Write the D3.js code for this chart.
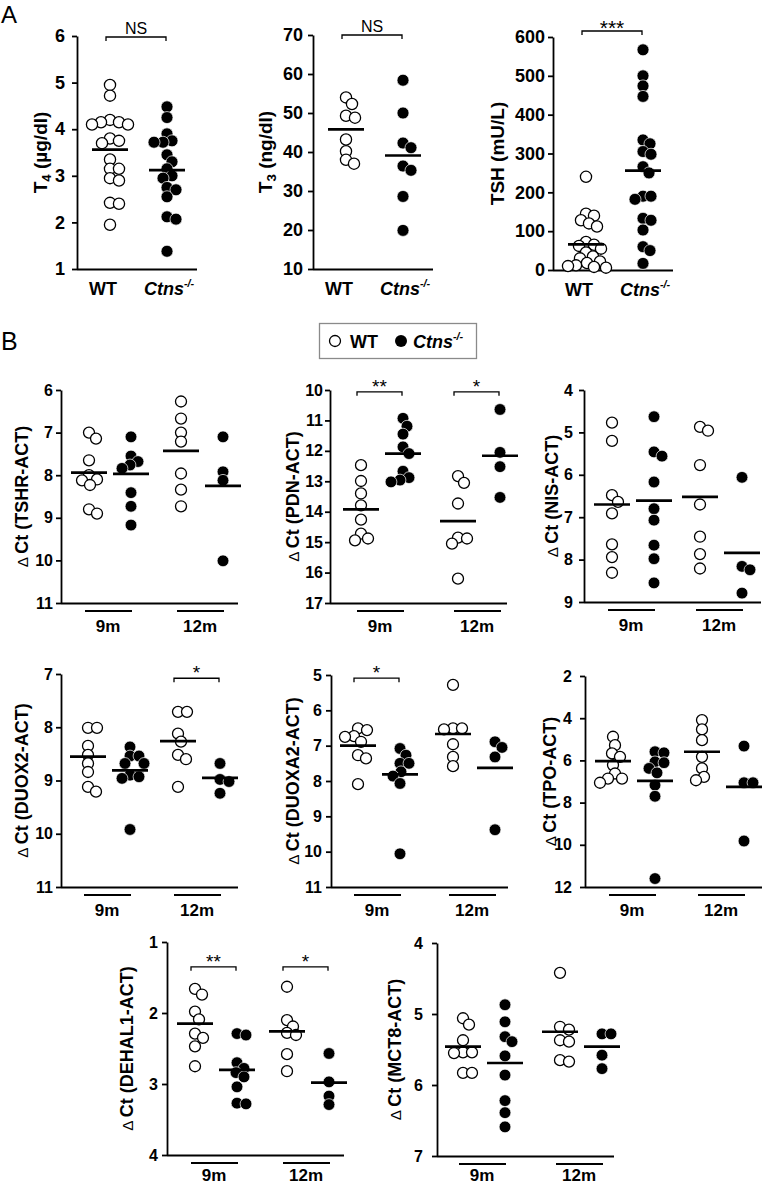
<!DOCTYPE html>
<html><head><meta charset="utf-8">
<script src="https://cdn.jsdelivr.net/npm/d3@7"></script>
<style>
body{margin:0;background:#fff}
svg{display:block}
text{font-family:"Liberation Sans",Arial,Helvetica,sans-serif}
</style>
</head><body>
<svg id="chart" width="762" height="1186"></svg>
<script>
// ---------------- DATA ----------------
const groupsA = ["WT", "Ctns"];
const ages = ["9m", "12m"];

// Panel A
const t4Ticks = [1, 2, 3, 4, 5, 6];
const t4WT = [4.95, 4.72, 4.2, 4.15, 4.15, 4.1, 4.1, 3.8, 3.75, 3.7, 3.35, 3.15, 3.15, 2.95, 2.9, 2.42, 2.4, 1.95];
const t4KO = [4.48, 4.25, 3.9, 3.75, 3.72, 3.72, 3.45, 3.3, 3.15, 3.0, 2.95, 2.75, 2.7, 2.55, 2.12, 2.07, 1.38];
const t4Means = [3.56, 3.12];

const t3Ticks = [10, 20, 30, 40, 50, 60, 70];
const t3WT = [54, 52.3, 49.3, 48.8, 43.2, 40.2, 38, 37];
const t3KO = [58.4, 50, 42.3, 41.1, 36.4, 35.3, 28.6, 19.9];
const t3Means = [45.8, 39.1];

const tshTicks = [0, 100, 200, 300, 400, 500, 600];
const tshWT = [240, 145, 140, 128, 120, 112, 72, 65, 62, 55, 45, 35, 30, 22, 18, 12, 10, 8, 6];
const tshKO = [567, 500, 474, 447, 335, 325, 305, 298, 266, 250, 190, 190, 182, 133, 128, 103, 60, 50, 17];
const tshMeans = [66, 256];

// Panel B (groups: WT 9m, Ctns 9m, WT 12m, Ctns 12m)
const tshrTicks = [6, 7, 8, 9, 10, 11];
const tshrWT9 = [7.0, 7.14, 7.65, 8.0, 8.1, 8.12, 8.23, 8.8, 8.9];
const tshrKO9 = [7.1, 7.55, 7.68, 7.76, 7.84, 8.41, 8.73, 9.17];
const tshrWT12 = [6.27, 6.67, 7.0, 7.21, 7.96, 8.34, 8.73];
const tshrKO12 = [7.1, 7.92, 8.12, 10.01];
const tshrMeans = [7.94, 7.97, 7.43, 8.25];

const pdnTicks = [10, 11, 12, 13, 14, 15, 16, 17];
const pdnWT9 = [12.47, 12.99, 13.4, 13.79, 14.26, 14.72, 14.88, 14.94];
const pdnKO9 = [10.93, 11.19, 11.45, 11.87, 12.09, 12.67, 12.88, 12.96, 13.02];
const pdnWT12 = [12.83, 13.05, 13.73, 14.85, 14.88, 15.05, 16.2];
const pdnKO12 = [10.64, 12.05, 12.52, 13.53];
const pdnMeans = [13.92, 12.09, 14.31, 12.16];
const pdnSig = ["**", "*"];

const nisTicks = [4, 5, 6, 7, 8, 9];
const nisWT9 = [4.77, 5.2, 6.48, 6.64, 6.91, 7.64, 7.94, 8.31];
const nisKO9 = [4.63, 5.46, 5.56, 6.17, 6.8, 7.07, 7.66, 7.98, 8.55];
const nisWT12 = [4.87, 4.96, 5.77, 6.7, 7.46, 7.87, 8.21];
const nisKO12 = [6.06, 8.16, 8.24, 8.79];
const nisMeans = [6.70, 6.61, 6.52, 7.84];

const duox2Ticks = [7, 8, 9, 10, 11];
const duox2WT9 = [8.01, 8.01, 8.35, 8.52, 8.68, 8.84, 9.12, 9.21];
const duox2KO9 = [8.37, 8.54, 8.54, 8.68, 8.68, 8.9, 8.93, 8.96, 9.92];
const duox2WT12 = [7.71, 7.71, 8.12, 8.27, 8.52, 8.6, 9.12];
const duox2KO12 = [8.68, 8.98, 9.02, 9.24];
const duox2Means = [8.55, 8.81, 8.26, 8.95];
const duox2Sig = [null, "*"];

const duoxa2Ticks = [5, 6, 7, 8, 9, 10, 11];
const duoxa2WT9 = [6.51, 6.56, 6.73, 6.75, 6.89, 7.27, 7.36, 8.09];
const duoxa2KO9 = [7.08, 7.27, 7.5, 7.5, 7.74, 7.86, 8.07, 10.06];
const duoxa2WT12 = [5.28, 6.51, 6.51, 6.54, 6.96, 7.32, 7.58];
const duoxa2KO12 = [6.89, 7.05, 7.32, 9.38];
const duoxa2Means = [7.0, 7.81, 6.67, 7.63];
const duoxa2Sig = ["*", null];

const tpoTicks = [2, 4, 6, 8, 10, 12];
const tpoWT9 = [4.88, 5.28, 5.67, 5.83, 6.22, 6.62, 6.86, 6.86, 7.06];
const tpoKO9 = [5.59, 5.64, 6.07, 6.11, 6.38, 6.59, 7.17, 7.7, 11.6];
const tpoWT12 = [4.09, 4.53, 5.04, 5.83, 6.38, 6.78, 6.94];
const tpoKO12 = [5.32, 7.06, 7.06, 9.82];
const tpoMeans = [6.03, 6.97, 5.59, 7.25];

const dehalTicks = [1, 2, 3, 4];
const dehalWT9 = [1.66, 1.74, 1.98, 2.09, 2.29, 2.35, 2.47, 2.75];
const dehalKO9 = [2.29, 2.31, 2.7, 2.78, 2.84, 2.9, 3.04, 3.27, 3.28];
const dehalWT12 = [1.63, 2.1, 2.19, 2.28, 2.31, 2.58, 2.82];
const dehalKO12 = [2.57, 2.97, 3.17, 3.29];
const dehalMeans = [2.15, 2.8, 2.26, 2.98];
const dehalSig = ["**", "*"];

const mct8Ticks = [4, 5, 6, 7];
const mct8WT9 = [5.06, 5.15, 5.37, 5.54, 5.54, 5.55, 5.83, 5.83];
const mct8KO9 = [4.87, 5.11, 5.32, 5.39, 5.59, 5.86, 6.22, 6.39, 6.59];
const mct8WT12 = [4.42, 5.18, 5.22, 5.37, 5.39, 5.65, 5.67];
const mct8KO12 = [5.28, 5.28, 5.58, 5.77];
const mct8Means = [5.46, 5.69, 5.25, 5.46];

// ---------------- DRAWING ----------------
const FONT = '"Liberation Sans",Arial,Helvetica,sans-serif';
const svg = d3.select("#chart");
svg.append("rect").attr("width", 762).attr("height", 1186).attr("fill", "#fff");

function dodge(vals, y, minD) {
  const placed = [];
  vals.forEach(v => {
    const py = y(v);
    let chosen = 0;
    for (let k = 0; k < 120; k++) {
      const dx = k === 0 ? 0 : (k % 2 ? 1 : -1) * Math.ceil(k / 2);
      if (placed.every(p => Math.hypot(dx - p.dx, py - p.py) >= minD)) { chosen = dx; break; }
    }
    placed.push({ v: v, py: py, dx: chosen });
  });
  return placed;
}

function drawYAxis(g, y, ticks, x, pad, fs) {
  const ax = d3.axisLeft(y).tickValues(ticks).tickSize(5).tickSizeOuter(0)
    .tickPadding(pad).tickFormat(d3.format("d"));
  const gg = g.append("g").attr("transform", `translate(${x},0)`).call(ax)
    .attr("font-family", FONT).attr("font-size", fs);
  gg.select(".domain").attr("stroke", "#000").attr("stroke-width", 1.8);
  gg.selectAll(".tick line").attr("stroke", "#000").attr("stroke-width", 1.8);
  gg.selectAll(".tick text").attr("font-weight", "bold").attr("fill", "#000");
  return gg;
}

function drawPoints(g, pts, cx, filled, r) {
  g.selectAll(null).data(pts).enter().append("circle")
    .attr("cx", d => cx + d.dx).attr("cy", d => d.py).attr("r", r)
    .attr("fill", filled ? "#000" : "#fff")
    .attr("stroke", filled ? "#fff" : "#000")
    .attr("stroke-width", filled ? 0.7 : 1.3);
}

function drawMean(g, cx, yv, half) {
  g.append("line").attr("x1", cx - half).attr("x2", cx + half)
    .attr("y1", yv).attr("y2", yv).attr("stroke", "#000").attr("stroke-width", 2.7);
}

function drawBracket(g, x1, x2, yb, label, fs, lblDy) {
  g.append("path").attr("d", `M${x1},${yb + 4}V${yb}H${x2}V${yb + 4}`)
    .attr("fill", "none").attr("stroke", "#000").attr("stroke-width", 1.3);
  g.append("text").attr("x", (x1 + x2) / 2).attr("y", yb + lblDy)
    .attr("text-anchor", "middle").attr("font-size", fs).attr("fill", "#000").text(label);
}

function yTitle(g, cx, cy, parts, fs) {
  const t = g.append("text").attr("transform", `translate(${cx},${cy}) rotate(-90)`)
    .attr("text-anchor", "middle").attr("dy", "0.35em")
    .attr("font-size", fs).attr("font-weight", "bold").attr("fill", "#000");
  parts.forEach(p => {
    const s = t.append("tspan").text(p.t);
    if (p.sub) s.attr("font-size", fs * 0.7).attr("dy", fs * 0.25);
    if (p.after) s.attr("dy", -fs * 0.25);
    if (p.normal) s.attr("font-weight", "normal").attr("font-size", fs * 0.85);
  });
}

function ctnsLabel(g, x, y, fs, anchor) {
  const t = g.append("text").attr("x", x).attr("y", y).attr("text-anchor", anchor)
    .attr("font-size", fs).attr("font-weight", "bold").attr("font-style", "italic").attr("fill", "#000");
  t.append("tspan").text("Ctns");
  t.append("tspan").text("-/-").attr("font-size", fs * 0.6).attr("dy", -fs * 0.42);
  return t;
}

// ---- Panel A ----
function panelA(cfg) {
  const g = svg.append("g");
  const y = d3.scaleLinear().domain(d3.extent(cfg.ticks)).range([cfg.bottom, cfg.top]);
  const x = d3.scalePoint().domain(groupsA).range([cfg.axisX + 33, cfg.axisX + 90]);
  drawYAxis(g, y, cfg.ticks, cfg.axisX, cfg.pad, 18);
  g.append("line").attr("x1", cfg.axisX).attr("x2", cfg.axisX + 120)
    .attr("y1", cfg.bottom + 0.5).attr("y2", cfg.bottom + 0.5).attr("stroke", "#000").attr("stroke-width", 1.8);
  drawPoints(g, dodge(cfg.wt, y, cfg.minD), x("WT"), false, 5.6);
  drawPoints(g, dodge(cfg.ko, y, cfg.minD), x("Ctns"), true, 6);
  drawMean(g, x("WT"), y(cfg.means[0]), 18);
  drawMean(g, x("Ctns"), y(cfg.means[1]), 18);
  const isStar = cfg.sig.indexOf("*") >= 0;
  drawBracket(g, x("WT") - 4, x("Ctns") - 1, cfg.top + cfg.bOff, cfg.sig, isStar ? 21 : 16, isStar ? 4 : -3);
  g.append("text").attr("x", x("WT") - 7).attr("y", cfg.bottom + 26).attr("text-anchor", "middle")
    .attr("font-size", 18).attr("font-weight", "bold").attr("fill", "#000").text("WT");
  ctnsLabel(g, x("Ctns") + 2, cfg.bottom + 26, 18, "middle");
  yTitle(g, cfg.axisX + cfg.titleDx, (cfg.top + cfg.bottom) / 2, cfg.title, 19);
}

panelA({ axisX: 77, top: 36, bottom: 269, ticks: t4Ticks, wt: t4WT, ko: t4KO, means: t4Means,
  sig: "NS", bOff: 1, titleDx: -37, minD: 8.5, pad: 7,
  title: [{ t: "T" }, { t: "4", sub: true }, { t: " (µg/dl)", after: true }] });
panelA({ axisX: 313, top: 35, bottom: 269, ticks: t3Ticks, wt: t3WT, ko: t3KO, means: t3Means,
  sig: "NS", bOff: 0, titleDx: -48, minD: 8.5, pad: 5,
  title: [{ t: "T" }, { t: "3", sub: true }, { t: " (ng/dl)", after: true }] });
panelA({ axisX: 553, top: 37, bottom: 270, ticks: tshTicks, wt: tshWT, ko: tshKO, means: tshMeans,
  sig: "***", bOff: -6, titleDx: -56, minD: 8, pad: 3,
  title: [{ t: "TSH (mU/L)" }] });

// ---- Legend ----
(function legend() {
  const g = svg.append("g");
  g.append("rect").attr("x", 319.5).attr("y", 323.5).attr("width", 157).attr("height", 35)
    .attr("fill", "#fff").attr("stroke", "#8a8a8a").attr("stroke-width", 1.3);
  g.append("circle").attr("cx", 335).attr("cy", 341).attr("r", 5.5)
    .attr("fill", "#fff").attr("stroke", "#000").attr("stroke-width", 1.3);
  g.append("text").attr("x", 350).attr("y", 347.5).attr("font-size", 18).attr("font-weight", "bold")
    .attr("fill", "#000").text("WT");
  g.append("circle").attr("cx", 401).attr("cy", 341).attr("r", 6).attr("fill", "#000");
  ctnsLabel(g, 413, 347.5, 18, "start");
})();

// ---- Panel B ----
function panelB(cfg) {
  const g = svg.append("g");
  const dom = d3.extent(cfg.ticks);
  const y = d3.scaleLinear().domain(dom).range([cfg.top, cfg.bottom]); // reversed: low at top
  const ar = cfg.ar || [49, 141];
  const xa = d3.scalePoint().domain(ages).range([cfg.axisX + ar[0], cfg.axisX + ar[1]]);
  const xg = d3.scalePoint().domain(groupsA).range([-21, 21]);
  drawYAxis(g, y, cfg.ticks, cfg.axisX, cfg.pad, 16);
  g.append("line").attr("x1", cfg.axisX).attr("x2", Math.min(cfg.axisX + 177, 762))
    .attr("y1", cfg.bottom + 0.5).attr("y2", cfg.bottom + 0.5).attr("stroke", "#000").attr("stroke-width", 1.8);
  const sets = [
    { vals: cfg.data[0], age: "9m", gt: "WT" },
    { vals: cfg.data[1], age: "9m", gt: "Ctns" },
    { vals: cfg.data[2], age: "12m", gt: "WT" },
    { vals: cfg.data[3], age: "12m", gt: "Ctns" }
  ];
  sets.forEach(s => {
    const cx = xa(s.age) + xg(s.gt);
    drawPoints(g, dodge(s.vals, y, 8.5), cx, s.gt === "Ctns", s.gt === "Ctns" ? 5.9 : 5.5);
  });
  sets.forEach((s, i) => {
    const cx = xa(s.age) + xg(s.gt);
    drawMean(g, cx, y(cfg.means[i]), 18);
  });
  if (cfg.sig) {
    cfg.sig.forEach((lab, i) => {
      if (!lab) return;
      const a = ages[i];
      drawBracket(g, xa(a) + xg("WT") - 4, xa(a) + xg("Ctns") - 1, y(cfg.sigLevel), lab, 19, 1);
    });
  }
  const labDy = cfg.labDy || 29;
  ages.forEach(a => {
    const cx = xa(a);
    g.append("line").attr("x1", cx - 25).attr("x2", cx + 22)
      .attr("y1", cfg.bottom + 8).attr("y2", cfg.bottom + 8).attr("stroke", "#000").attr("stroke-width", 1.8);
    g.append("text").attr("x", cx - 2).attr("y", cfg.bottom + labDy).attr("text-anchor", "middle")
      .attr("font-size", 17).attr("font-weight", "bold").attr("fill", "#000").text(a);
  });
  yTitle(g, cfg.axisX + cfg.titleDx, (cfg.top + cfg.bottom) / 2,
    [{ t: "Δ ", normal: true }, { t: "Ct (" + cfg.gene + "-ACT)" }], 18);
}

panelB({ axisX: 61, top: 390, bottom: 603, ticks: tshrTicks, gene: "TSHR", titleDx: -39, pad: 3,
  data: [tshrWT9, tshrKO9, tshrWT12, tshrKO12], means: tshrMeans });
panelB({ axisX: 330, top: 390, bottom: 603, ticks: pdnTicks, gene: "PDN", titleDx: -37, pad: 2, ar: [52, 149],
  data: [pdnWT9, pdnKO9, pdnWT12, pdnKO12], means: pdnMeans, sig: pdnSig, sigLevel: 10.06 });
panelB({ axisX: 584, top: 390, bottom: 602, ticks: nisTicks, gene: "NIS", titleDx: -32, pad: 6, ar: [49, 137],
  data: [nisWT9, nisKO9, nisWT12, nisKO12], means: nisMeans });
panelB({ axisX: 61, top: 674, bottom: 887, ticks: duox2Ticks, gene: "DUOX2", titleDx: -39, pad: 3, ar: [48, 138],
  data: [duox2WT9, duox2KO9, duox2WT12, duox2KO12], means: duox2Means, sig: duox2Sig, sigLevel: 7.08 });
panelB({ axisX: 331, top: 675, bottom: 887, ticks: duoxa2Ticks, gene: "DUOXA2", titleDx: -38, pad: 4, ar: [48, 143],
  data: [duoxa2WT9, duoxa2KO9, duoxa2WT12, duoxa2KO12], means: duoxa2Means, sig: duoxa2Sig, sigLevel: 5.09 });
panelB({ axisX: 585, top: 676, bottom: 887, ticks: tpoTicks, gene: "TPO", titleDx: -35, pad: 8, ar: [49, 138],
  data: [tpoWT9, tpoKO9, tpoWT12, tpoKO12], means: tpoMeans });
panelB({ axisX: 167, top: 942, bottom: 1155, ticks: dehalTicks, gene: "DEHAL1", titleDx: -40, pad: 4, labDy: 26,
  data: [dehalWT9, dehalKO9, dehalWT12, dehalKO12], means: dehalMeans, sig: dehalSig, sigLevel: 1.35 });
panelB({ axisX: 437, top: 943, bottom: 1156, ticks: mct8Ticks, gene: "MCT8", titleDx: -42, pad: 9, labDy: 25, ar: [47, 144],
  data: [mct8WT9, mct8KO9, mct8WT12, mct8KO12], means: mct8Means });

// ---- Panel letters ----
svg.append("text").attr("x", 1).attr("y", 23).attr("font-size", 24).attr("fill", "#000").text("A");
svg.append("text").attr("x", 1).attr("y", 350).attr("font-size", 25).attr("fill", "#000").text("B");
</script>
</body></html>
